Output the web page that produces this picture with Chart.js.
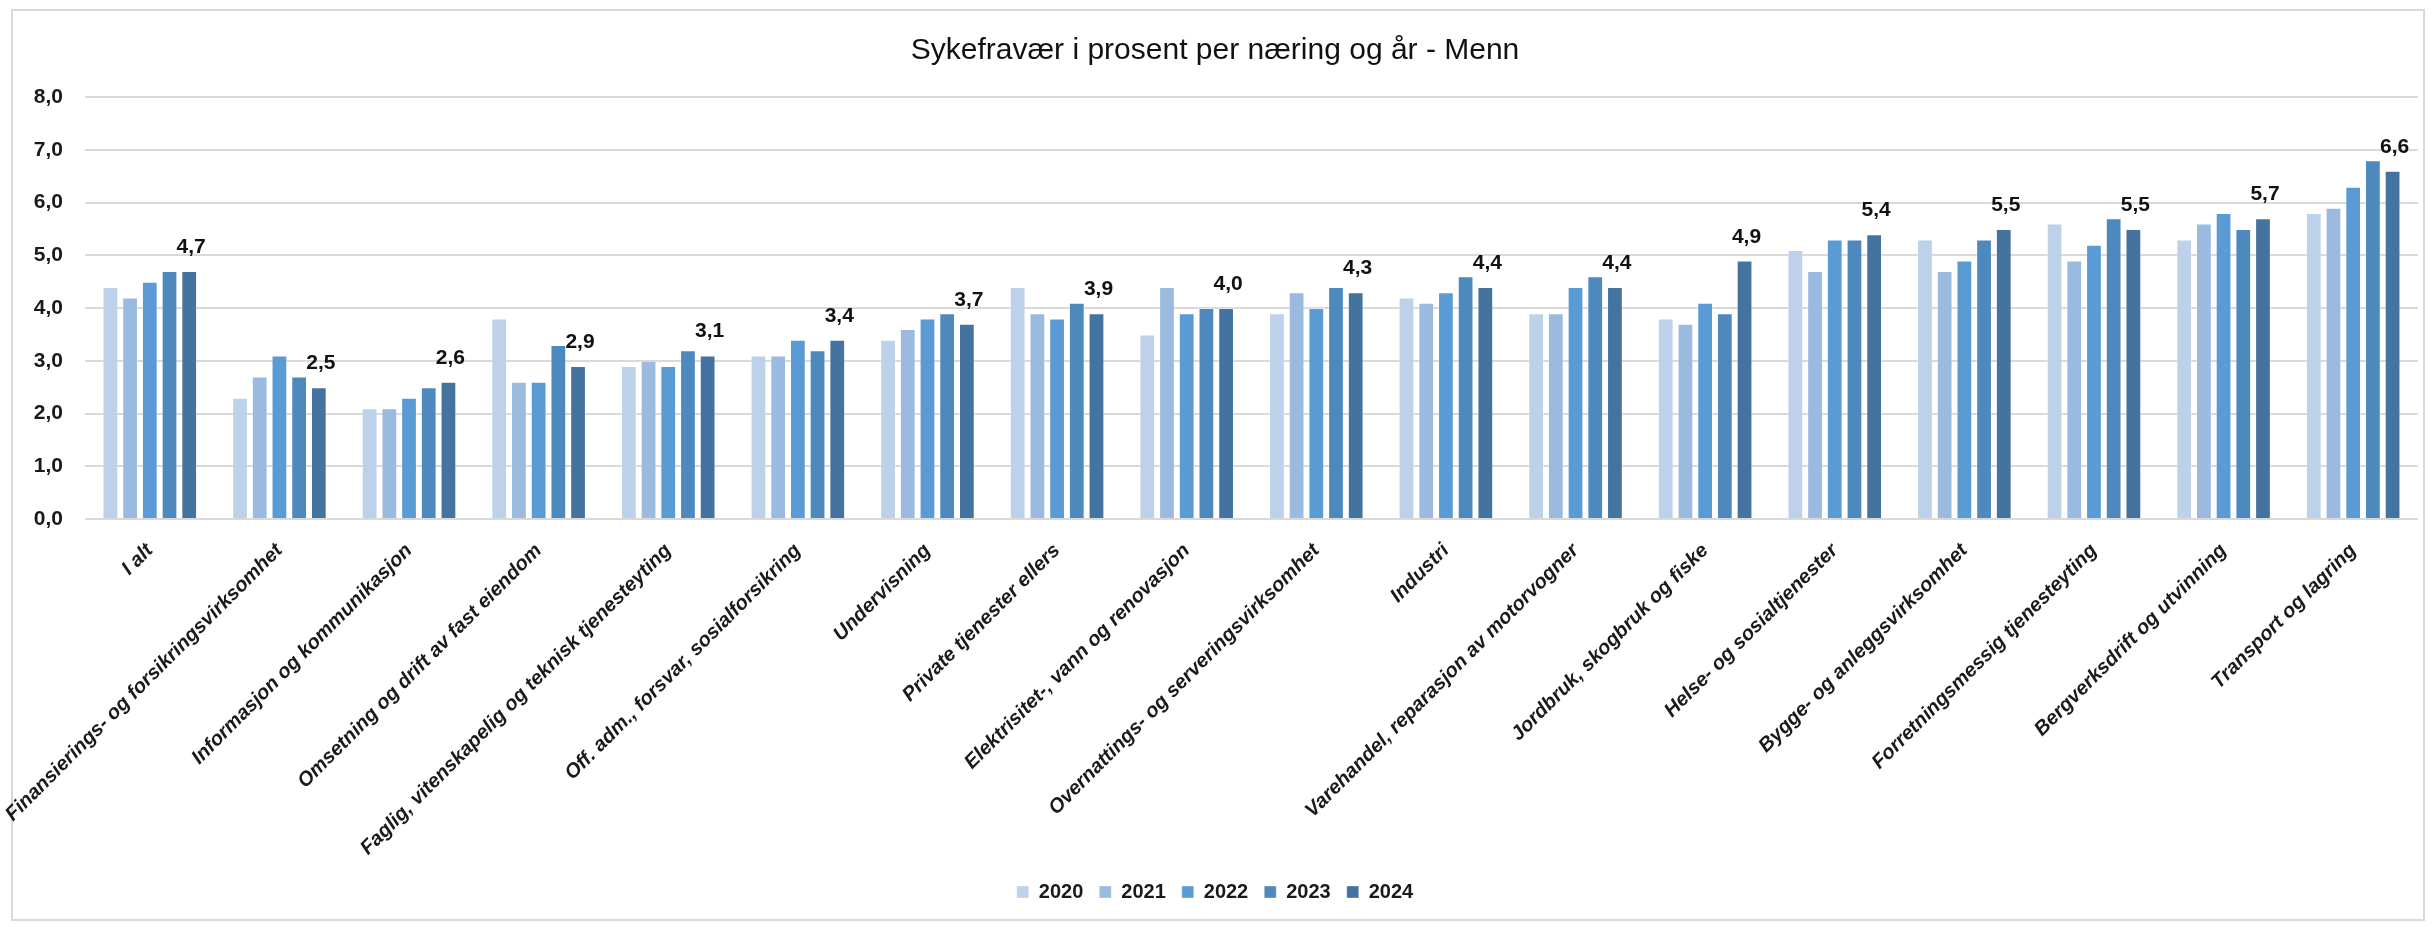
<!DOCTYPE html>
<html>
<head>
<meta charset="utf-8">
<script src="https://cdn.jsdelivr.net/npm/chart.js@4/dist/chart.umd.min.js"></script>
<style>
  html, body { margin: 0; padding: 0; background: #fff; }
  #graf { display: block; }
</style>
</head>
<body>
<canvas id="graf" width="2433" height="927"></canvas>
<script>
// næringer (kategorier)
var naeringer = [
  "I alt",
  "Finansierings- og forsikringsvirksomhet",
  "Informasjon og kommunikasjon",
  "Omsetning og drift av fast eiendom",
  "Faglig, vitenskapelig og teknisk tjenesteyting",
  "Off. adm., forsvar, sosialforsikring",
  "Undervisning",
  "Private tjenester ellers",
  "Elektrisitet-, vann og renovasjon",
  "Overnattings- og serveringsvirksomhet",
  "Industri",
  "Varehandel, reparasjon av motorvogner",
  "Jordbruk, skogbruk og fiske",
  "Helse- og sosialtjenester",
  "Bygge- og anleggsvirksomhet",
  "Forretningsmessig tjenesteyting",
  "Bergverksdrift og utvinning",
  "Transport og lagring"
];

var aar = ["2020", "2021", "2022", "2023", "2024"];

var y2020 = [4.4, 2.3, 2.1, 3.8, 2.9, 3.1, 3.4, 4.4, 3.5, 3.9, 4.2, 3.9, 3.8, 5.1, 5.3, 5.6, 5.3, 5.8];
var y2021 = [4.2, 2.7, 2.1, 2.6, 3.0, 3.1, 3.6, 3.9, 4.4, 4.3, 4.1, 3.9, 3.7, 4.7, 4.7, 4.9, 5.6, 5.9];
var y2022 = [4.5, 3.1, 2.3, 2.6, 2.9, 3.4, 3.8, 3.8, 3.9, 4.0, 4.3, 4.4, 4.1, 5.3, 4.9, 5.2, 5.8, 6.3];
var y2023 = [4.7, 2.7, 2.5, 3.3, 3.2, 3.2, 3.9, 4.1, 4.0, 4.4, 4.6, 4.6, 3.9, 5.3, 5.3, 5.7, 5.5, 6.8];
var y2024 = [4.7, 2.5, 2.6, 2.9, 3.1, 3.4, 3.7, 3.9, 4.0, 4.3, 4.4, 4.4, 4.9, 5.4, 5.5, 5.5, 5.7, 6.6];

var farger = ["#bdd1ea", "#9abadf", "#5b9bd5", "#4e89be", "#44739f"];

var skrift = "'Liberation Sans Narrow', 'Liberation Sans', sans-serif";

function komma(v) {
  return Number(v).toFixed(1).replace(".", ",");
}

// ramme rundt hele diagrammet
var ramme = {
  id: "ramme",
  beforeDraw: function (chart) {
    var ctx = chart.ctx;
    ctx.save();
    ctx.fillStyle = "#ffffff";
    ctx.fillRect(0, 0, chart.width, chart.height);
    ctx.strokeStyle = "#d9d9d9";
    ctx.lineWidth = 2;
    ctx.strokeRect(12, 10, 2412, 910);
    ctx.restore();
  }
};

// verdietiketter for siste år
var etiketter = {
  id: "etiketter",
  afterDatasetsDraw: function (chart) {
    var ctx = chart.ctx;
    var meta = chart.getDatasetMeta(4);
    ctx.save();
    ctx.font = "bold 21px " + skrift;
    ctx.fillStyle = "#111";
    ctx.textAlign = "center";
    ctx.textBaseline = "alphabetic";
    meta.data.forEach(function (bar, i) {
      ctx.fillText(komma(y2024[i]), bar.x + 2, bar.y - 18);
    });
    ctx.restore();
  }
};

var serier = [y2020, y2021, y2022, y2023, y2024];

var datasett = serier.map(function (s, i) {
  return {
    label: aar[i],
    data: s,
    backgroundColor: farger[i],
    borderColor: "rgba(255,255,255,0.35)",
    borderWidth: 1,
    categoryPercentage: 0.76,
    barPercentage: 0.8
  };
});

new Chart(document.getElementById("graf"), {
  type: "bar",
  data: { labels: naeringer, datasets: datasett },
  options: {
    responsive: false,
    devicePixelRatio: 1,
    animation: false,
    layout: { padding: { left: 12, right: 15, top: 0, bottom: 15 } },
    plugins: {
      title: {
        display: true,
        text: "Sykefravær i prosent per næring og år - Menn",
        color: "#111",
        font: { family: skrift, size: 30, weight: "normal" },
        padding: { top: 33, bottom: 28 }
      },
      legend: {
        position: "bottom",
        labels: {
          boxWidth: 12,
          boxHeight: 12,
          padding: 16,
          color: "#1a1a1a",
          font: { family: skrift, size: 20, weight: "bold" }
        }
      },
      tooltip: { enabled: false }
    },
    scales: {
      x: {
        grid: { display: false },
        border: { display: false },
        ticks: {
          maxRotation: 45,
          minRotation: 45,
          autoSkip: false,
          padding: 12,
          color: "#1a1a1a",
          font: { family: skrift, size: 20, weight: "bold", style: "italic" }
        },
        afterFit: function (scale) { scale.height = 347; }
      },
      y: {
        min: 0,
        max: 8,
        grid: { color: "#d9d9d9", lineWidth: 2, drawTicks: false },
        border: { display: false },
        ticks: {
          stepSize: 1,
          padding: 22,
          color: "#1a1a1a",
          font: { family: skrift, size: 21, weight: "bold" },
          callback: function (v) { return komma(v); }
        },
        afterFit: function (scale) { scale.width = 73; }
      }
    }
  },
  plugins: [ramme, etiketter]
});
</script>
</body>
</html>
